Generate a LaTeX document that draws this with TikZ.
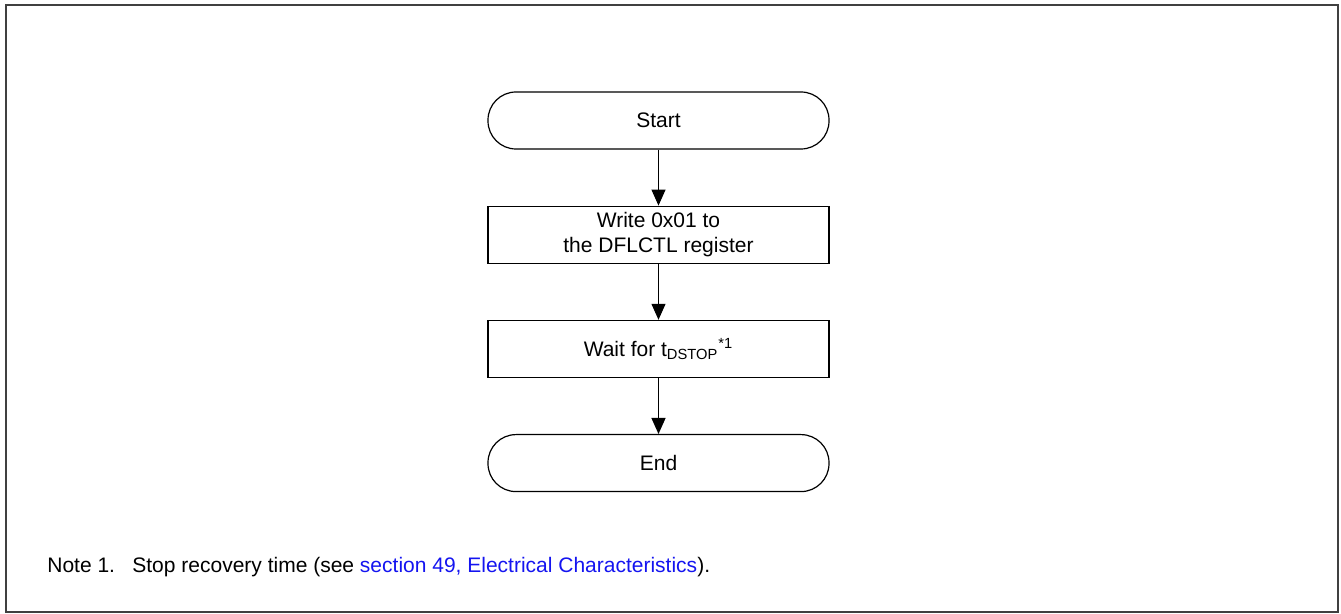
\documentclass[tikz,border=0pt]{standalone}
\usepackage{fontspec}
\setmainfont{Liberation Sans}
\usetikzlibrary{arrows.meta,positioning}

\definecolor{linkblue}{RGB}{20,20,240}
\definecolor{framegray}{RGB}{64,64,64}

\begin{document}
\begin{tikzpicture}[
    x=0.5pt, y=-0.5pt,
    node distance=28pt,
    term/.style={draw, line width=0.6pt, rounded corners=14pt, font=\fontsize{10.5}{12.5}\selectfont, minimum width=170.5pt, minimum height=28.5pt, inner sep=0pt},
    proc/.style={draw, line width=0.6pt, font=\fontsize{10.5}{12.5}\selectfont, minimum width=170.5pt, minimum height=28.5pt, align=center, inner sep=0pt},
    flow/.style={line width=0.6pt, -{Triangle[length=8pt,width=7pt]}},
    notetxt/.style={anchor=base west, inner sep=0pt, font=\fontsize{10.5}{12.5}\selectfont},
]
\useasboundingbox (0,0) rectangle (1341,614);
% Frame
\draw[framegray, line width=0.8pt] (6,5) rectangle (1338,612);

% Flow
\node[term] (start) at (658.5,120.5) {Start};
\node[proc, below=of start] (write) {Write 0x01 to\\the DFLCTL register};
\node[proc, below=of write] (wait) {Wait for t\textsubscript{DSTOP}\textsuperscript{*1}};
\node[term, below=of wait] (end) {End};

\draw[flow] (start) -- (write);
\draw[flow] (write) -- (wait);
\draw[flow] (wait) -- (end);

% Note
\node[notetxt] (notelbl) at (47,573) {Note 1.};
\node[notetxt] (note) at (132,573)
    {Stop recovery time (see \textcolor{linkblue}{section 49, Electrical Characteristics}).};
\end{tikzpicture}
\end{document}
